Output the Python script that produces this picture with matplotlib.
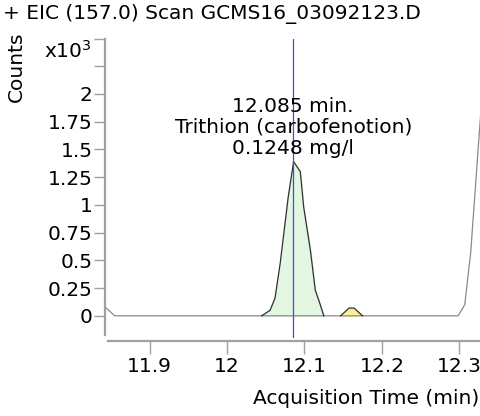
import matplotlib.pyplot as plt
import numpy as np

# 色谱数据 (x: min, y: x10^3 counts)
trace_x = [11.8424, 11.855, 12.0447, 12.2985, 12.307, 12.3147, 12.328]
trace_y = [0.08, 0.0, 0.0, 0.0, 0.1, 0.57, 1.86]

peak_x = [12.0447, 12.0556, 12.062, 12.0686, 12.079, 12.086, 12.0946, 12.099,
          12.1077, 12.114, 12.1185, 12.125]
peak_y = [0.0, 0.05, 0.16, 0.47, 1.07, 1.39, 1.30, 0.98, 0.59, 0.23, 0.14, 0.0]

small_x = [12.1467, 12.1576, 12.164, 12.175]
small_y = [0.0, 0.07, 0.07, 0.0]

rt = 12.085
x_ticks = [11.9, 12.0, 12.1, 12.2, 12.3]
x_labels = ['11.9', '12', '12.1', '12.2', '12.3']
y_ticks = [0, 0.25, 0.5, 0.75, 1, 1.25, 1.5, 1.75, 2, 2.25, 2.5]
y_labels = ['0', '0.25', '0.5', '0.75', '1', '1.25', '1.5', '1.75', '2', '', '']

fs = 14.5

fig = plt.figure(figsize=(4.81, 4.16), dpi=100)
ax = fig.add_axes([105 / 481, 1 - 338 / 416, 376 / 481, 299.5 / 416])

ax.fill_between(peak_x, peak_y, color='#e2f6e2', zorder=1)
ax.plot(peak_x, peak_y, color='#303030', lw=0.9, zorder=3)
ax.fill_between(small_x, small_y, color='#fbf0a0', zorder=1)
ax.plot(small_x, small_y, color='#303030', lw=0.9, zorder=3)
ax.plot(trace_x, trace_y, color='#8a8a8a', lw=0.9, zorder=2)
ax.axvline(rt, color='#4848e0', lw=0.9, zorder=4)

ax.text(rt + 0.0005, 1.70, '12.085 min.\nTrithion (carbofenotion)\n0.1248 mg/l',
        ha='center', va='center', fontsize=fs, linespacing=1.12, zorder=5)

ax.set_xlim(11.8424, 12.328)
ax.set_ylim(-0.2, 2.5)
ax.set_xticks(x_ticks, x_labels)
ax.set_yticks(y_ticks, y_labels)

for s in ['top', 'right']:
    ax.spines[s].set_visible(False)
ax.spines['left'].set_color('#a0a0a0')
ax.spines['left'].set_linewidth(1.6)
ax.spines['left'].set_bounds(-0.17, 2.5)
ax.spines['bottom'].set_color('#a0a0a0')
ax.spines['bottom'].set_linewidth(1.6)
ax.spines['bottom'].set_position(('outward', 2))
ax.spines['bottom'].set_bounds(11.846, 12.328)

ax.tick_params(axis='y', length=8, width=1, color='#a0a0a0', labelsize=fs, pad=1)
ax.tick_params(axis='x', length=9, width=1, color='#a0a0a0', labelsize=fs, pad=3)

fig.text(3 / 481, 1 - 14 / 416, '+ EIC (157.0) Scan GCMS16_03092123.D',
         ha='left', va='center', fontsize=fs)
fig.text(16 / 481, 1 - 67 / 416, 'Counts', rotation=90, ha='center', va='center',
         fontsize=fs)
fig.text(44 / 481, 1 - 51 / 416, r'x10$^3$', ha='left', va='center', fontsize=fs)
fig.text(479 / 481, 1 - 398 / 416, 'Acquisition Time (min)', ha='right', va='center',
         fontsize=fs)

fig.savefig('out.png', dpi=100)
